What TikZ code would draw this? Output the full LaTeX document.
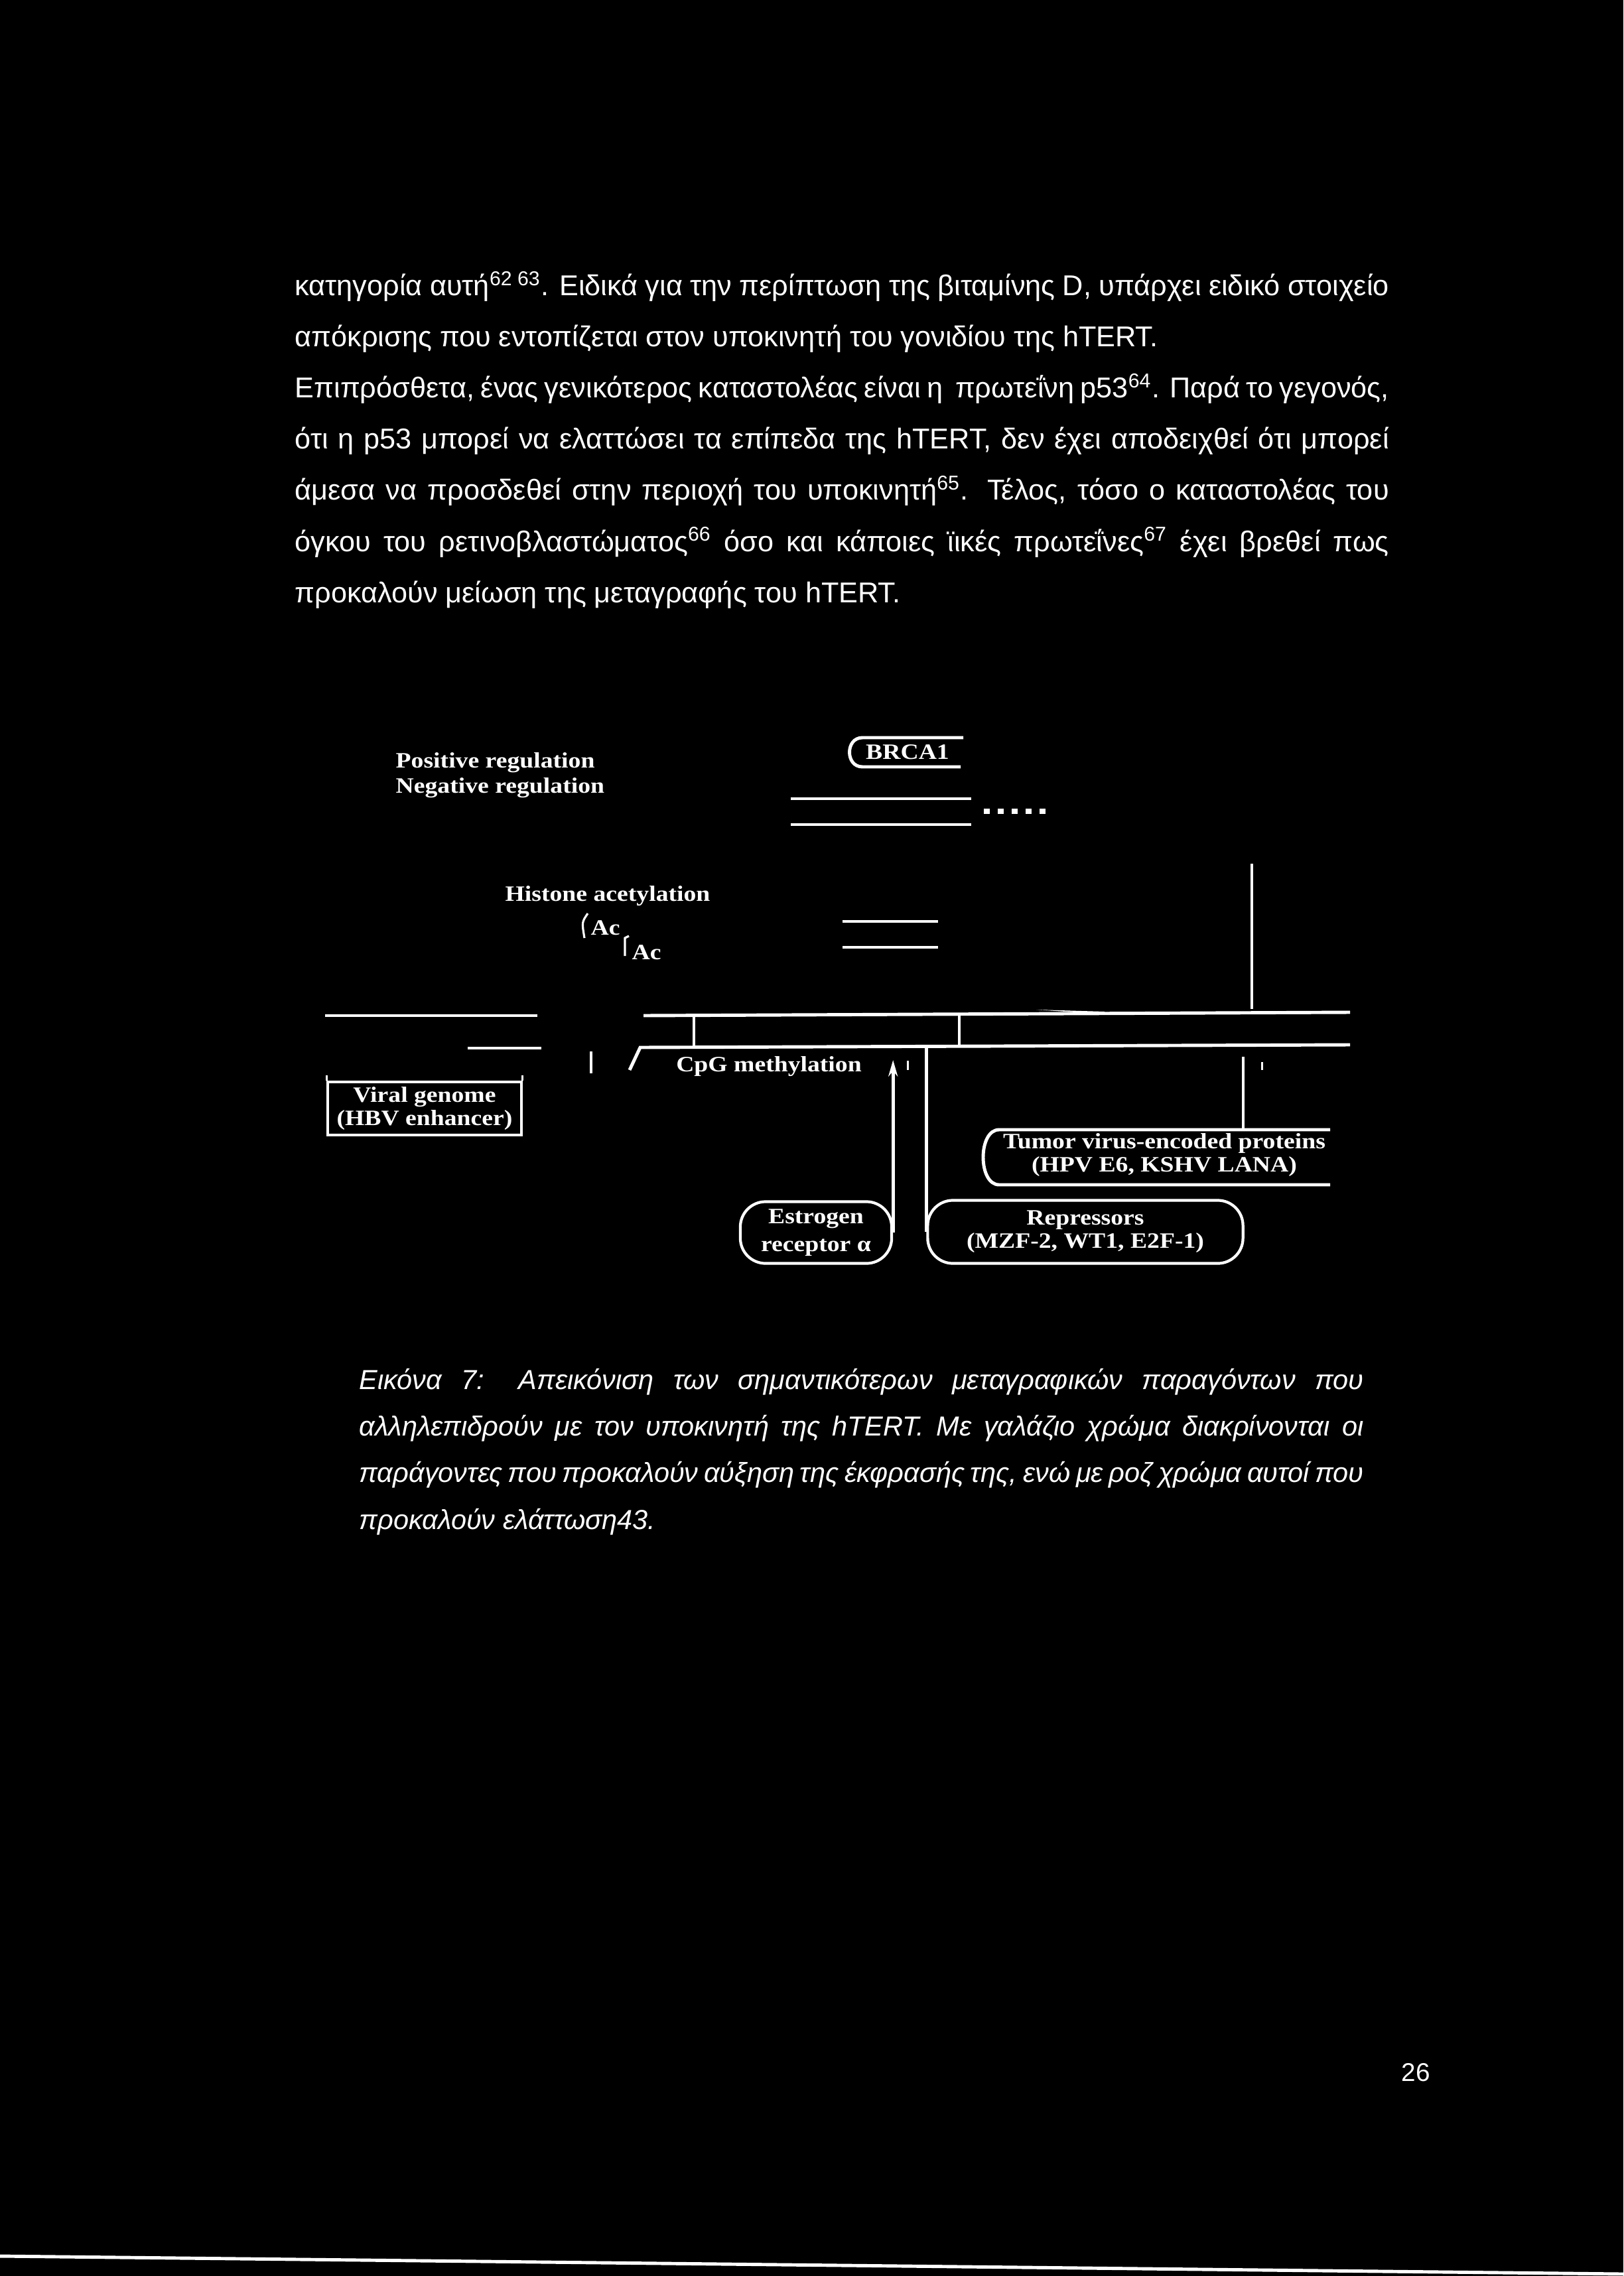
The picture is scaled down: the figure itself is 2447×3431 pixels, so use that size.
\documentclass[tikz,border=0pt]{standalone}
\usepackage{fontspec}
\setmainfont{Liberation Sans}
\newfontfamily\lblfamily[FakeStretch=1.14]{Liberation Serif}
\usetikzlibrary{arrows.meta}

\newcommand{\bodyfnt}{\fontsize{12.3}{14}\selectfont}
\newcommand{\lblfnt}{\lblfamily\bfseries\fontsize{9.4}{10}\selectfont}
\newcommand{\jline}[2]{\makebox[#1][s]{#2}}

\begin{document}
\begin{tikzpicture}[x=0.01cm, y=-0.01cm,
    body/.style = {anchor=base west, inner sep=0pt, text=white, font=\bodyfnt},
    capt/.style = {anchor=base west, inner sep=0pt, text=white, font=\fontsize{11.8}{14}\selectfont\itshape},
    lbl/.style = {inner sep=0pt, text=white, font=\lblfnt, align=center},
    wire/.style = {draw=white, line width=1.4pt},
    thinwire/.style = {draw=white, line width=0.9pt},
    pill/.style = {draw=white, line width=1.2pt, rounded corners=0.38cm, inner sep=0pt, text=white, font=\lblfnt, align=center}]
\fill[black] (0,0) rectangle (2447,3431);
\useasboundingbox (0,0) rectangle (2447,3431);

% text above the figure
\node[body] at (444,446) (l1) {\jline{16.48cm}{κατηγορία αυτή\textsuperscript{62 63}. Ειδικά για την περίπτωση της βιταμίνης D, υπάρχει ειδικό στοιχείο}};
\node[body] at (444,523) (l2) {απόκρισης που εντοπίζεται στον υποκινητή του γονιδίου της hTERT.};
\node[body] at (444,600) (l3) {\jline{16.48cm}{Επιπρόσθετα, ένας γενικότερος καταστολέας είναι η \ πρωτεΐνη p53\textsuperscript{64}. Παρά το γεγονός,}};
\node[body] at (444,677) (l4) {\jline{16.48cm}{ότι η p53 μπορεί να ελαττώσει τα επίπεδα της hTERT, δεν έχει αποδειχθεί ότι μπορεί}};
\node[body] at (444,754) (l5) {\jline{16.48cm}{άμεσα να προσδεθεί στην περιοχή του υποκινητή\textsuperscript{65}. Τέλος, τόσο ο καταστολέας του}};
\node[body] at (444,831) (l6) {\jline{16.48cm}{όγκου του ρετινοβλαστώματος\textsuperscript{66} όσο και κάποιες ϊικές πρωτεΐνες\textsuperscript{67} έχει βρεθεί πως}};
\node[body] at (444,908) (l7) {προκαλούν μείωση της μεταγραφής του hTERT.};

% legend
\node[lbl, anchor=west] at (596,1150) (pos) {Positive regulation};
\node[lbl, anchor=west] at (596,1188) (neg) {Negative regulation};
\node[lbl] at (1368,1134) (brca) {BRCA1};
\draw[wire] (1452,1112) -- (1300,1112) .. controls (1274,1112) and (1274,1156) .. (1300,1156) -- (1448,1156);
\coordinate (posA) at (1192,1204);
\coordinate (posB) at (1464,1204);
\coordinate (negA) at (1192,1243);
\coordinate (negB) at (1464,1243);
\draw[wire] (posA) -- (posB);
\draw[wire] (negA) -- (negB);
\foreach \i in {0,...,4}
  \fill[white] (1483+21*\i,1219) rectangle +(9,8);

% histone acetylation
\node[lbl] at (916,1351) (hist) {Histone acetylation};
\node[lbl, anchor=west] at (890,1399) (acA) {Ac};
\node[lbl, anchor=west] at (952,1436) (acB) {Ac};
\draw[thinwire] (886,1377) .. controls (877,1390) .. (881,1414);
\draw[thinwire] (948,1411) -- (942,1414) -- (942,1441);
\draw[wire] (1270,1389) -- (1414,1389);
\draw[wire] (1270,1428) -- (1414,1428);
\draw[wire] (1887,1302) -- (1887,1521);

% promoter
\coordinate (upL) at (970,1531);
\coordinate (upR) at (2035,1526);
\coordinate (loL) at (965,1579);
\coordinate (loR) at (2035,1575);
\draw[wire] (490,1531) -- (810,1531);
\draw[wire] (upL) -- (upR);
\fill[white] (1562,1522) -- (1665,1525) -- (1665,1529) -- cycle;
\draw[wire] (1046,1531) -- (1046,1579);
\draw[wire] (1446,1530) -- (1446,1578);
\draw[wire] (949,1613) -- (loL) -- (loR);
\draw[wire] (705,1580) -- (816,1580);
\draw[wire] (891,1585) -- (891,1618);
\node[lbl] at (1159,1608) (cpg) {CpG methylation};

% viral genome
\node[draw=white, line width=1pt, minimum width=2.92cm, minimum height=0.8cm, inner sep=0pt, text=white, font=\lblfnt, align=center] at (640,1671) (viral) {Viral genome\\(HBV enhancer)};
\draw[thinwire] (viral.north west) -- ++(0,-8);
\draw[thinwire] (viral.north east) -- ++(0,-8);

% factors
\node[pill, minimum width=2.28cm, minimum height=0.93cm] at (1230,1858) (er) {Estrogen\\[2pt]receptor α};
\node[pill, minimum width=4.75cm, minimum height=0.95cm] at (1636,1857) (rep) {Repressors\\(MZF-2, WT1, E2F-1)};
\node[lbl] at (1755,1741) (tvp) {Tumor virus-encoded proteins\\(HPV E6, KSHV LANA)};
\coordinate (tvtop) at (1874,1703);
\draw[wire] (2005,1703) -- (1506,1703) .. controls (1474,1703) and (1474,1786) .. (1506,1786) -- (2005,1786);

\coordinate (erin) at (er.east |- 1598,1598);
\coordinate (repin) at (rep.west |- loL);
\coordinate (tvin) at (1874,1593);
\draw[wire, -{Stealth[length=7pt,width=4pt]}] (er.east) -- (erin);
\draw[wire] (rep.west) -- (repin);
\draw[thinwire] ([xshift=-8]repin) ++(0,20) -- ++(0,14);
\draw[wire] (tvtop) -- (tvin);
\draw[thinwire] ([xshift=8]tvin) ++(0,8) -- ++(0,12);

% caption
\node[capt] at (541,2094) (c1) {\jline{15.13cm}{Εικόνα 7: Απεικόνιση των σημαντικότερων μεταγραφικών παραγόντων που}};
\node[capt] at (541,2164) (c2) {\jline{15.13cm}{αλληλεπιδρούν με τον υποκινητή της hTERT. Με γαλάζιο χρώμα διακρίνονται οι}};
\node[capt] at (541,2234) (c3) {\jline{15.13cm}{παράγοντες που προκαλούν αύξηση της έκφρασής της, ενώ με ροζ χρώμα αυτοί που}};
\node[capt] at (541,2305) (c4) {προκαλούν ελάττωση43.};

% page number and edge
\node[body, anchor=base, font=\fontsize{11}{13}\selectfont] at (2134,3137) (pg) {26};
\draw[wire] (0,3401) -- (2447,3428);
\end{tikzpicture}
\end{document}
